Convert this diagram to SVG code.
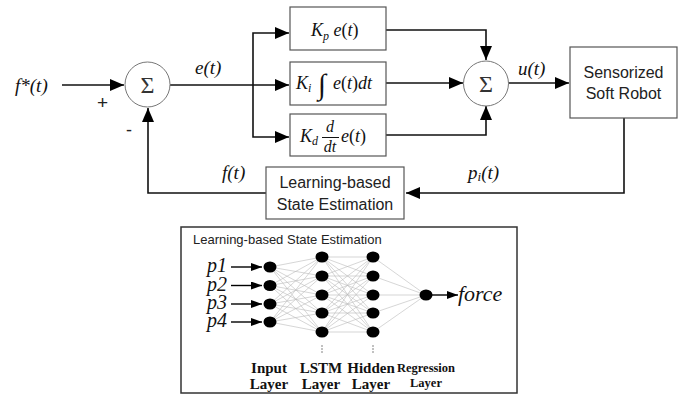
<svg xmlns="http://www.w3.org/2000/svg" width="694" height="394" viewBox="0 0 694 394">
<style>
.ln{fill:none;stroke:#111;stroke-width:1.6}
.box{fill:#fff;stroke:#555;stroke-width:1.2}
.sum{fill:#fff;stroke:#777;stroke-width:1}
.m{font-family:"Liberation Serif",serif;font-style:italic;fill:#111}
.s{font-family:"Liberation Sans",sans-serif;fill:#222}
.nn{stroke:#bbb;stroke-width:0.6}
.nd{fill:#000}
.b{font-family:"Liberation Serif",serif;font-weight:bold;fill:#111;text-anchor:middle}
.sig{font-family:"Liberation Serif",serif;font-size:24px;fill:#333;text-anchor:middle}
</style>
<defs>
<marker id="ah" markerUnits="userSpaceOnUse" markerWidth="14" markerHeight="12" refX="14" refY="6" orient="auto">
<path d="M0,0 L14,6 L0,12 Z" fill="#000"/>
</marker>
<marker id="as" markerUnits="userSpaceOnUse" markerWidth="11" markerHeight="8" refX="11" refY="4" orient="auto">
<path d="M0,0 L11,4 L0,8 Z" fill="#000"/>
</marker>
</defs>

<g id="connectors">
<path class="ln" d="M62,85 H124" marker-end="url(#ah)"/>
<path class="ln" d="M170,85 H289" marker-end="url(#ah)"/>
<path class="ln" d="M253,85 V33 H289" marker-end="url(#ah)"/>
<path class="ln" d="M253,85 V137 H289" marker-end="url(#ah)"/>
<path class="ln" d="M386,30 H486 V60" marker-end="url(#ah)"/>
<path class="ln" d="M386,83 H463" marker-end="url(#ah)"/>
<path class="ln" d="M386,135 H486 V106" marker-end="url(#ah)"/>
<path class="ln" d="M508,83 H569" marker-end="url(#ah)"/>
<path class="ln" d="M624,118 V193 H406" marker-end="url(#ah)"/>
<path class="ln" d="M266,193 H148 V108" marker-end="url(#ah)"/>
</g>

<text class="m" x="15" y="92" font-size="19">f*(t)</text>
<text class="s" x="97" y="109" font-size="19">+</text>
<text class="s" x="126" y="136" font-size="18">-</text>
<text class="m" x="195" y="74" font-size="19">e(t)</text>
<text class="m" x="518" y="75" font-size="19">u(t)</text>
<text class="m" x="222" y="179" font-size="19">f(t)</text>
<text class="m" x="468" y="179" font-size="19">p<tspan font-size="13" dy="2">i</tspan><tspan dy="-2">(t)</tspan></text>

<g id="sum1"><circle class="sum" cx="147.5" cy="84.5" r="22.5"/><text class="sig" x="147.5" y="93">Σ</text></g>
<g id="sum2"><circle class="sum" cx="486" cy="83.5" r="22.5"/><text class="sig" x="486" y="92">Σ</text></g>

<g id="kp"><rect class="box" x="290" y="7" width="96" height="43"/>
<text class="m" x="311" y="36" font-size="18">K<tspan font-size="12" dy="4">p</tspan><tspan dy="-4"> e</tspan><tspan font-style="normal">(</tspan>t<tspan font-style="normal">)</tspan></text></g>

<g id="ki"><rect class="box" x="290" y="62" width="96" height="43"/>
<text class="m" x="296" y="89" font-size="18">K<tspan font-size="12" dy="3">i</tspan></text>
<text x="318" y="94" font-family="Liberation Serif,serif" font-size="29" fill="#111">∫</text>
<text class="m" x="333" y="89" font-size="18">e<tspan font-style="normal">(</tspan>t<tspan font-style="normal">)</tspan>dt</text></g>

<g id="kd"><rect class="box" x="290" y="114" width="96" height="42"/>
<text class="m" x="300" y="142" font-size="18">K<tspan font-size="12" dy="3">d</tspan></text>
<text class="m" x="330" y="132" font-size="16" text-anchor="middle">d</text>
<line x1="322" y1="137.5" x2="339" y2="137.5" stroke="#111" stroke-width="1"/>
<text class="m" x="330" y="152" font-size="16" text-anchor="middle">dt</text>
<text class="m" x="341" y="142" font-size="18">e<tspan font-style="normal">(</tspan>t<tspan font-style="normal">)</tspan></text></g>

<g id="robot"><rect class="box" x="570" y="47" width="107" height="71"/>
<text class="s" x="623.5" y="78" font-size="16" text-anchor="middle">Sensorized</text>
<text class="s" x="623.5" y="99" font-size="16" text-anchor="middle">Soft Robot</text></g>

<g id="estimator"><rect class="box" x="266" y="167" width="138" height="52"/>
<text class="s" x="335" y="188" font-size="16" text-anchor="middle">Learning-based</text>
<text class="s" x="335" y="210" font-size="16" text-anchor="middle">State Estimation</text></g>

<g id="nn-panel">
<rect x="181" y="227" width="336" height="166" fill="#fff" stroke="#333" stroke-width="1.5"/>
<text class="s" x="193" y="244" font-size="13">Learning-based State Estimation</text>
<g>
<line class="nn" x1="270" y1="267" x2="322" y2="257"/><line class="nn" x1="270" y1="267" x2="322" y2="276"/><line class="nn" x1="270" y1="267" x2="322" y2="295"/><line class="nn" x1="270" y1="267" x2="322" y2="313"/><line class="nn" x1="270" y1="267" x2="322" y2="332"/>
<line class="nn" x1="270" y1="285.5" x2="322" y2="257"/><line class="nn" x1="270" y1="285.5" x2="322" y2="276"/><line class="nn" x1="270" y1="285.5" x2="322" y2="295"/><line class="nn" x1="270" y1="285.5" x2="322" y2="313"/><line class="nn" x1="270" y1="285.5" x2="322" y2="332"/>
<line class="nn" x1="270" y1="304" x2="322" y2="257"/><line class="nn" x1="270" y1="304" x2="322" y2="276"/><line class="nn" x1="270" y1="304" x2="322" y2="295"/><line class="nn" x1="270" y1="304" x2="322" y2="313"/><line class="nn" x1="270" y1="304" x2="322" y2="332"/>
<line class="nn" x1="270" y1="322" x2="322" y2="257"/><line class="nn" x1="270" y1="322" x2="322" y2="276"/><line class="nn" x1="270" y1="322" x2="322" y2="295"/><line class="nn" x1="270" y1="322" x2="322" y2="313"/><line class="nn" x1="270" y1="322" x2="322" y2="332"/>
<line class="nn" x1="322" y1="257" x2="373" y2="257"/><line class="nn" x1="322" y1="257" x2="373" y2="276"/><line class="nn" x1="322" y1="257" x2="373" y2="295"/><line class="nn" x1="322" y1="257" x2="373" y2="313"/><line class="nn" x1="322" y1="257" x2="373" y2="332"/>
<line class="nn" x1="322" y1="276" x2="373" y2="257"/><line class="nn" x1="322" y1="276" x2="373" y2="276"/><line class="nn" x1="322" y1="276" x2="373" y2="295"/><line class="nn" x1="322" y1="276" x2="373" y2="313"/><line class="nn" x1="322" y1="276" x2="373" y2="332"/>
<line class="nn" x1="322" y1="295" x2="373" y2="257"/><line class="nn" x1="322" y1="295" x2="373" y2="276"/><line class="nn" x1="322" y1="295" x2="373" y2="295"/><line class="nn" x1="322" y1="295" x2="373" y2="313"/><line class="nn" x1="322" y1="295" x2="373" y2="332"/>
<line class="nn" x1="322" y1="313" x2="373" y2="257"/><line class="nn" x1="322" y1="313" x2="373" y2="276"/><line class="nn" x1="322" y1="313" x2="373" y2="295"/><line class="nn" x1="322" y1="313" x2="373" y2="313"/><line class="nn" x1="322" y1="313" x2="373" y2="332"/>
<line class="nn" x1="322" y1="332" x2="373" y2="257"/><line class="nn" x1="322" y1="332" x2="373" y2="276"/><line class="nn" x1="322" y1="332" x2="373" y2="295"/><line class="nn" x1="322" y1="332" x2="373" y2="313"/><line class="nn" x1="322" y1="332" x2="373" y2="332"/>
<line class="nn" x1="373" y1="257" x2="426" y2="295"/><line class="nn" x1="373" y1="276" x2="426" y2="295"/><line class="nn" x1="373" y1="295" x2="426" y2="295"/><line class="nn" x1="373" y1="313" x2="426" y2="295"/><line class="nn" x1="373" y1="332" x2="426" y2="295"/>
</g>
<g stroke="#000" stroke-width="1.4">
<line x1="231" y1="267" x2="262" y2="267" marker-end="url(#as)"/>
<line x1="231" y1="285.5" x2="262" y2="285.5" marker-end="url(#as)"/>
<line x1="231" y1="304" x2="262" y2="304" marker-end="url(#as)"/>
<line x1="231" y1="322" x2="262" y2="322" marker-end="url(#as)"/>
<line x1="432" y1="295" x2="458" y2="295" marker-end="url(#as)"/>
</g>
<text class="m" x="207" y="272" font-size="20">p1</text>
<text class="m" x="207" y="290.5" font-size="20">p2</text>
<text class="m" x="207" y="309" font-size="20">p3</text>
<text class="m" x="207" y="327" font-size="20">p4</text>
<text class="m" x="458" y="301" font-size="22">force</text>
<g class="nd">
<ellipse cx="270" cy="267" rx="6.5" ry="5.5"/><ellipse cx="270" cy="285.5" rx="6.5" ry="5.5"/><ellipse cx="270" cy="304" rx="6.5" ry="5.5"/><ellipse cx="270" cy="322" rx="6.5" ry="5.5"/>
<ellipse cx="322" cy="257" rx="6.5" ry="5.5"/><ellipse cx="322" cy="276" rx="6.5" ry="5.5"/><ellipse cx="322" cy="295" rx="6.5" ry="5.5"/><ellipse cx="322" cy="313" rx="6.5" ry="5.5"/><ellipse cx="322" cy="332" rx="6.5" ry="5.5"/>
<ellipse cx="373" cy="257" rx="6.5" ry="5.5"/><ellipse cx="373" cy="276" rx="6.5" ry="5.5"/><ellipse cx="373" cy="295" rx="6.5" ry="5.5"/><ellipse cx="373" cy="313" rx="6.5" ry="5.5"/><ellipse cx="373" cy="332" rx="6.5" ry="5.5"/>
<ellipse cx="426" cy="295" rx="6.5" ry="5.5"/>
</g>
<g fill="#555">
<circle cx="322" cy="346" r="0.7"/><circle cx="322" cy="349" r="0.7"/><circle cx="322" cy="352" r="0.7"/>
<circle cx="373" cy="346" r="0.7"/><circle cx="373" cy="349" r="0.7"/><circle cx="373" cy="352" r="0.7"/>
</g>
<text class="b" x="269" y="373" font-size="15">Input</text>
<text class="b" x="269" y="389" font-size="15">Layer</text>
<text class="b" x="321" y="373" font-size="15">LSTM</text>
<text class="b" x="321" y="389" font-size="15">Layer</text>
<text class="b" x="371" y="373" font-size="15">Hidden</text>
<text class="b" x="371" y="389" font-size="15">Layer</text>
<text class="b" x="426" y="372" font-size="12.5">Regression</text>
<text class="b" x="426" y="387" font-size="12.5">Layer</text>
</g>
</svg>
